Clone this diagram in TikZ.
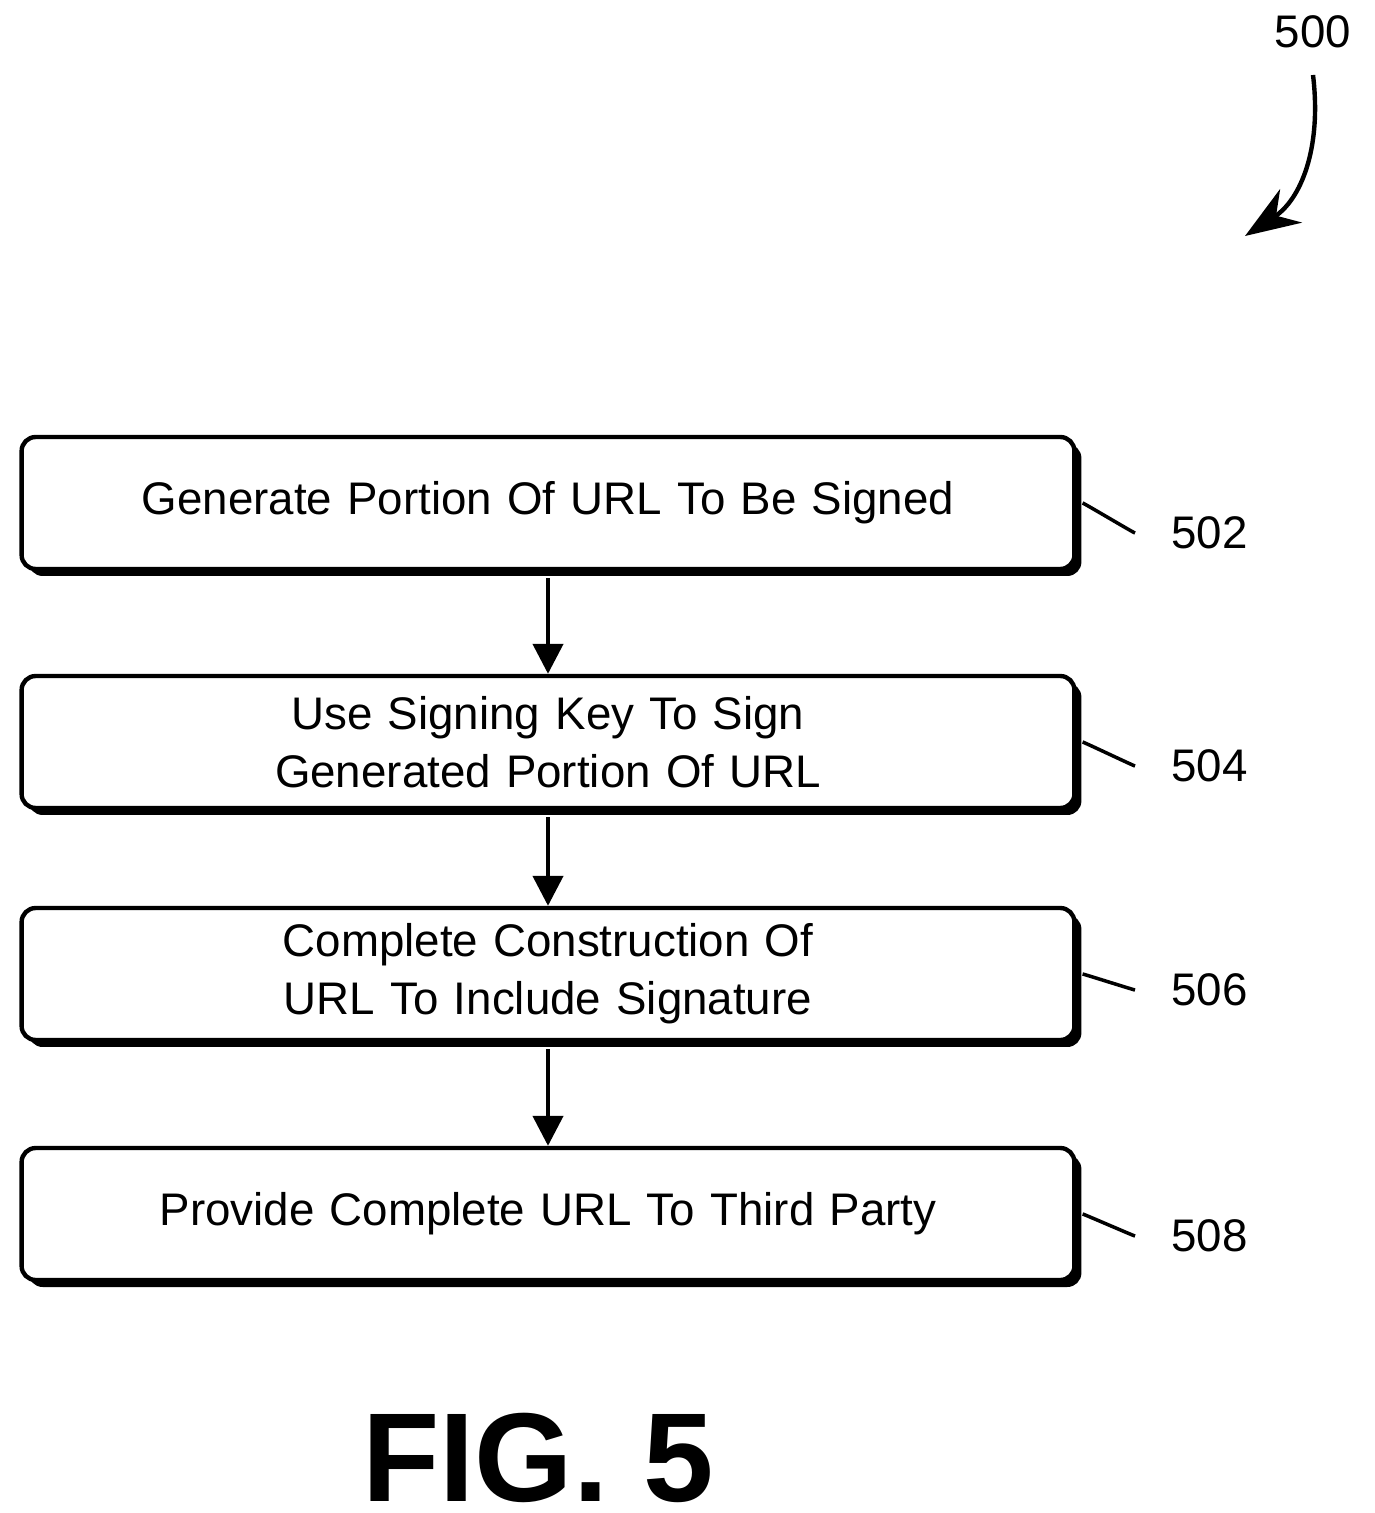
\documentclass[tikz,border=0pt]{standalone}
\usepackage{fontspec}
\setmainfont{Liberation Sans}
\usetikzlibrary{positioning,shadows,arrows.meta}

\tikzset{
  stepbox/.style={draw=black, line width=2.5pt, rounded corners=8pt, fill=white,
    minimum width=21.06cm, minimum height=2.64cm, text width=20.4cm, align=center,
    font=\fontsize{26}{33}\selectfont,
    drop shadow={shadow xshift=0.14cm, shadow yshift=-0.14cm, fill=black, opacity=1}},
  ref/.style={font=\fontsize{26}{32}\selectfont},
  squig/.style={line width=2pt},
  flow/.style={line width=2.5pt, -{Triangle[length=0.6cm,width=0.6cm]}}
}

\begin{document}
\begin{tikzpicture}[x=0.02cm,y=-0.02cm]
    \useasboundingbox (0,0) rectangle (1374,1513);

    % process steps
    \node[stepbox] (s502) at (548,503) {Generate Portion Of URL To Be Signed};
    \node[stepbox] (s504) at (548,742) {Use Signing Key To Sign Generated Portion Of URL};
    \node[stepbox] (s506) at (548,974) {Complete Construction Of URL To Include Signature};
    \node[stepbox] (s508) at (548,1214) {Provide Complete URL To Third Party};

    % arrows between steps
    \draw[flow] ([yshift=-0.14cm]s502.south) -- (s504.north);
    \draw[flow] ([yshift=-0.14cm]s504.south) -- (s506.north);
    \draw[flow] ([yshift=-0.14cm]s506.south) -- (s508.north);

    % reference labels
    \foreach \s/\y in {502/533, 504/766, 506/990, 508/1236} {
      \node[ref, anchor=west] (l\s) at (1165,\y) {\s};
      \draw[squig] ([xshift=0.12cm]s\s.east) .. controls +(1.0,0) and +(-1.0,0) .. ([xshift=-0.6cm]l\s.west);
    }

    % figure number
    \node[ref] (n500) at (1313,32) {500};
    \coordinate (a500) at (1245,236);
    \draw[line width=2.5pt, -{Stealth[length=1.1cm,width=0.8cm]}] (1313,75) .. controls (1322,150) and (1300,200) .. (a500);

    \node[font=\bfseries\fontsize{72}{80}\selectfont] (fig) at (538,1458) {FIG. 5};
\end{tikzpicture}
\end{document}
